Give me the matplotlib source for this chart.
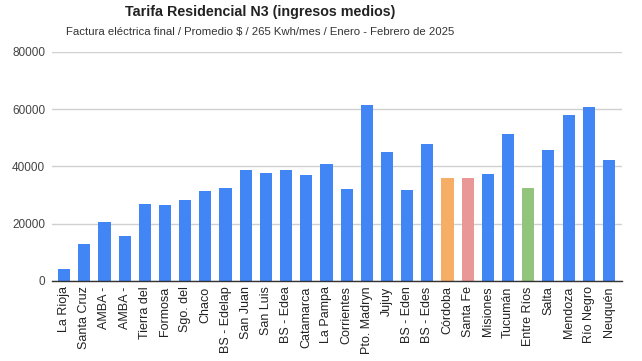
import matplotlib
matplotlib.use("Agg")
import matplotlib.pyplot as plt

categories = ["La Rioja", "Santa Cruz", "AMBA -", "AMBA -", "Tierra del", "Formosa",
              "Sgo. del", "Chaco", "BS - Edelap", "San Juan", "San Luis", "BS - Edea",
              "Catamarca", "La Pampa", "Corrientes", "Pto. Madryn", "Jujuy", "BS - Eden",
              "BS - Edes", "Córdoba", "Santa Fe", "Misiones", "Tucumán", "Entre Ríos",
              "Salta", "Mendoza", "Río Negro", "Neuquén"]
values = [4200, 12800, 20500, 15700, 27000, 26600, 28400, 31500, 32600, 38600,
          37800, 38900, 37100, 40800, 32200, 61300, 44900, 31700, 47900, 36000,
          36000, 37500, 51300, 32600, 45700, 57900, 60700, 42300]
highlight = {"Córdoba": "#F6AE66", "Santa Fe": "#EA9797", "Entre Ríos": "#93C47D"}
base_color = "#4285F4"
yticks = [0, 20000, 40000, 60000, 80000]

plt.rcParams['font.family'] = ['Liberation Sans', 'DejaVu Sans']

fig = plt.figure(figsize=(6.42, 3.61), dpi=100)
ax = fig.add_axes([0.081, 0.222, 0.888, 0.634])

colors = [highlight.get(c, base_color) for c in categories]
x = list(range(len(categories)))
ax.bar(x, values, width=0.6, color=colors, zorder=3)

ax.set_ylim(0, 80000)
ax.set_xlim(-0.6, len(categories) - 1 + 0.65)
ax.set_yticks(yticks)
ax.set_yticklabels([str(v) for v in yticks], fontsize=8.5, color="#444444")
ax.set_xticks(x)
ax.set_xticklabels(categories, rotation=90, fontsize=9, color="#222222")
ax.tick_params(axis='both', length=0, pad=4)
ax.tick_params(axis='y', pad=5)
ax.grid(axis='y', color="#D0D0D0", linewidth=1, zorder=0)
for s in ["top", "right", "left"]:
    ax.spines[s].set_visible(False)
ax.spines["bottom"].set_color("#333333")
ax.spines["bottom"].set_linewidth(1)
ax.spines["bottom"].set_zorder(4)

fig.text(0.405, 0.966, "Tarifa Residencial N3 (ingresos medios)", ha="center", va="center",
         fontsize=10.3, fontweight="bold", color="#222222")
fig.text(0.405, 0.911, "Factura eléctrica final / Promedio $ / 265 Kwh/mes / Enero - Febrero de 2025",
         ha="center", va="center", fontsize=8.2, color="#333333")

fig.savefig("out.png", dpi=100)
